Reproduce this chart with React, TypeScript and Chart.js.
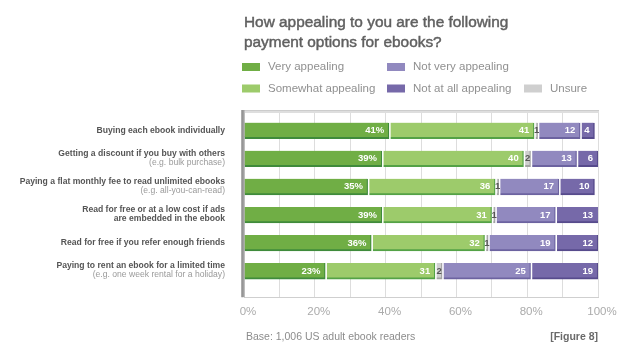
import React, { useEffect, useRef } from 'react';
import { Chart, registerables } from 'chart.js';

Chart.register(...registerables);

const titleLines = ['How appealing to you are the following', 'payment options for ebooks?'];

const categoryLines: string[][] = [
  ['Buying each ebook individually'],
  ['Getting a discount if you buy with others'],
  ['Paying a flat monthly fee to read unlimited ebooks'],
  ['Read for free or at a low cost if ads', 'are embedded in the ebook'],
  ['Read for free if you refer enough friends'],
  ['Paying to rent an ebook for a limited time'],
];
const categoryNotes = [
  '',
  '(e.g. bulk purchase)',
  '(e.g. all-you-can-read)',
  '',
  '',
  '(e.g. one week rental for a holiday)',
];

const veryAppealing = [41, 39, 35, 39, 36, 23];
const somewhatAppealing = [41, 40, 36, 31, 32, 31];
const unsure = [1, 2, 1, 1, 1, 2];
const notVeryAppealing = [12, 13, 17, 17, 19, 25];
const notAtAllAppealing = [4, 6, 10, 13, 12, 19];

const tickLabels = ['0%', '20%', '40%', '60%', '80%', '100%'];
const footerLeft = 'Base: 1,006 US adult ebook readers';
const footerRight = '[Figure 8]';

const FONT = '"Liberation Sans", Arial, sans-serif';

const seriesDefs = [
  { label: 'Very appealing', values: veryAppealing, color: '#70ae45', edge: '#3f8b3b', suffix: '%', text: '#ffffff' },
  { label: 'Somewhat appealing', values: somewhatAppealing, color: '#9dcb6b', edge: '#54a246', suffix: '', text: '#ffffff' },
  { label: 'Unsure', values: unsure, color: '#cfcfcf', edge: '#a3a3a3', suffix: '', text: '#555555' },
  { label: 'Not very appealing', values: notVeryAppealing, color: '#9189bf', edge: '#6c63a0', suffix: '', text: '#ffffff' },
  { label: 'Not at all appealing', values: notAtAllAppealing, color: '#7669a9', edge: '#574b8c', suffix: '', text: '#ffffff' },
];

// legend slots: [datasetIndex, column, row]
const legendSlots: [number, number, number][] = [
  [0, 0, 0],
  [1, 0, 1],
  [3, 1, 0],
  [4, 1, 1],
  [2, 2, 1],
];

const decorPlugin = {
  id: 'decor',
  beforeDraw(chart: any) {
    const ctx = chart.ctx;
    ctx.save();
    ctx.fillStyle = '#ffffff';
    ctx.fillRect(0, 0, chart.width, chart.height);
    ctx.restore();
  },
  afterDatasetsDraw(chart: any) {
    const ctx = chart.ctx;
    const area = chart.chartArea;
    const yScale = chart.scales.y;
    ctx.save();

    // gaps between segments
    chart.data.datasets.forEach((ds: any, di: number) => {
      if (di === 0) return;
      const meta = chart.getDatasetMeta(di);
      meta.data.forEach((bar: any) => {
        const h = bar.height;
        ctx.fillStyle = '#ffffff';
        ctx.fillRect(bar.base, bar.y - h / 2 - 1, 1.5, h + 2);
      });
    });

    // value labels
    chart.data.datasets.forEach((ds: any, di: number) => {
      const def = seriesDefs[di];
      const meta = chart.getDatasetMeta(di);
      meta.data.forEach((bar: any, i: number) => {
        const v = def.values[i];
        const txt = v + def.suffix;
        ctx.font = 'bold 9.5px ' + FONT;
        ctx.textBaseline = 'middle';
        ctx.fillStyle = def.text;
        if (def.label === 'Unsure') {
          ctx.textAlign = 'center';
          ctx.fillText(txt, (bar.base + bar.x) / 2 + 0.5, bar.y);
        } else {
          ctx.textAlign = 'right';
          const right = Math.min(bar.x, area.right);
          ctx.fillText(txt, right - 5, bar.y);
        }
      });
    });

    // top band
    ctx.fillStyle = '#dedede';
    ctx.fillRect(area.left - 2, area.top - 1, area.right - area.left + 3, 3);
    ctx.fillStyle = '#cccccc';
    ctx.fillRect(area.left - 2, area.top - 1, area.right - area.left + 3, 1);
    // left axis
    ctx.fillStyle = '#a0a0a0';
    ctx.fillRect(area.left - 2.5, area.top - 1, 3, area.bottom - area.top + 1);
    ctx.fillStyle = '#8a8a8a';
    ctx.fillRect(area.left - 2.5, area.top - 1, 1, area.bottom - area.top + 1);

    // category labels
    const labelRight = area.left - 19;
    categoryLines.forEach((lines, i) => {
      const cy = yScale.getPixelForValue(i);
      const note = categoryNotes[i];
      const all: { t: string; bold: boolean }[] = lines.map((t) => ({ t, bold: true }));
      if (note) all.push({ t: note, bold: false });
      const lh = 9;
      const start = cy - ((all.length - 1) * lh) / 2 - 0.5;
      all.forEach((ln, k) => {
        ctx.font = (ln.bold ? 'bold 8.6px ' : '8.6px ') + FONT;
        ctx.fillStyle = ln.bold ? '#555555' : '#9a9a9a';
        ctx.textAlign = 'right';
        ctx.textBaseline = 'middle';
        ctx.fillText(ln.t, labelRight, start + k * lh);
      });
    });

    // title
    ctx.font = '15.4px ' + FONT;
    ctx.fillStyle = '#606060';
    ctx.strokeStyle = '#606060';
    ctx.lineWidth = 0.45;
    ctx.textAlign = 'left';
    ctx.textBaseline = 'middle';
    titleLines.forEach((t, k) => {
      ctx.fillText(t, 244, 23 + k * 20);
      ctx.strokeText(t, 244, 23 + k * 20);
    });

    // legend
    const colX = [242, 387, 524];
    const rowY = [67, 88.5];
    legendSlots.forEach(([di, c, r]) => {
      const def = seriesDefs[di];
      const x = colX[c];
      const y = rowY[r];
      ctx.fillStyle = def.color;
      ctx.fillRect(x, y - 4, 18, 8);
      ctx.font = '11.5px ' + FONT;
      ctx.fillStyle = '#909090';
      ctx.textAlign = 'left';
      ctx.textBaseline = 'middle';
      ctx.fillText(chart.data.datasets[di].label, x + 26, y);
    });

    // footer
    ctx.font = '10.5px ' + FONT;
    ctx.fillStyle = '#8c8c8c';
    ctx.textAlign = 'left';
    ctx.fillText(footerLeft, 246, 337);
    ctx.font = 'bold 10.5px ' + FONT;
    ctx.fillStyle = '#6a6a6a';
    ctx.textAlign = 'right';
    ctx.fillText(footerRight, area.right, 337);

    ctx.restore();
  },
};

export default function App() {
  const ref = useRef<HTMLCanvasElement | null>(null);
  useEffect(() => {
    if (!ref.current) return;
    const chart = new Chart(ref.current, {
      type: 'bar',
      data: {
        datasets: seriesDefs.map((s) => ({
          label: s.label,
          data: s.values.map((v, i) => ({ x: v, y: i })),
          backgroundColor: s.color,
          borderColor: s.edge,
          borderWidth: { top: 0, left: 0, right: 1.5, bottom: 2 },
          borderSkipped: false,
          barThickness: 16,
        })),
      } as any,
      plugins: [decorPlugin],
      options: {
        indexAxis: 'y',
        animation: false,
        responsive: false,
        devicePixelRatio: 1,
        layout: { padding: { left: 244, right: 42, top: 111, bottom: 29 } },
        plugins: {
          legend: { display: false },
          tooltip: { enabled: false },
          title: { display: false },
        },
        scales: {
          x: {
            type: 'linear',
            stacked: true,
            min: 0,
            max: 100,
            grid: { color: '#dddddd', lineWidth: 1, drawTicks: false },
            border: { display: true, color: '#cfcfcf', width: 1 },
            ticks: {
              stepSize: 10,
              autoSkip: false,
              maxRotation: 0,
              padding: 8,
              color: '#ababab',
              font: { family: FONT, size: 11.5 },
              labelOffset: 4,
              callback: (v: any) => (Number(v) % 20 === 0 ? tickLabels[Number(v) / 20] : ''),
            },
          },
          y: {
            type: 'linear',
            stacked: true,
            reverse: true,
            offset: false,
            min: -0.7,
            max: 5.93,
            display: false,
            grid: { offset: false },
          },
        },
      } as any,
    });
    return () => chart.destroy();
  }, []);
  return (
    <div style={{ position: 'fixed', left: 0, top: 0, width: 640, height: 356, background: '#fff' }}>
      <canvas ref={ref} width={640} height={356} style={{ display: 'block', width: 640, height: 356 }} />
    </div>
  );
}
